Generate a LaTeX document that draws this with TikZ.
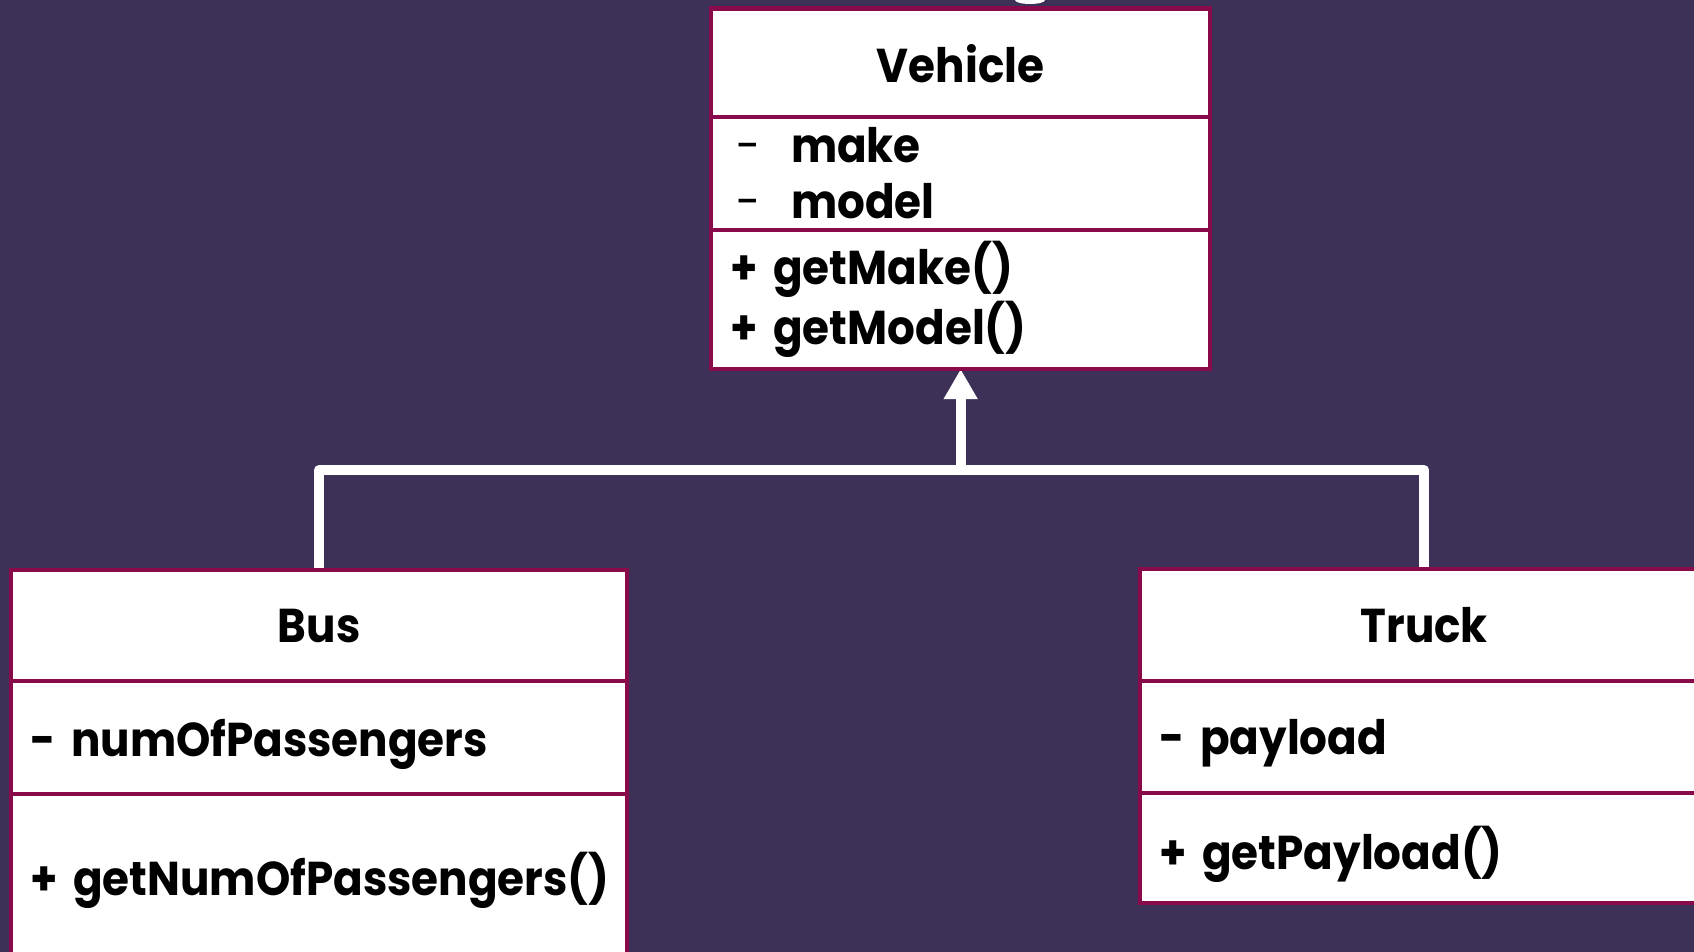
\documentclass[tikz,border=0pt]{standalone}
\usepackage{fontspec}
\setmainfont{Poppins}[FakeStretch=0.92]
\usetikzlibrary{arrows.meta}

\definecolor{slide}{HTML}{3D3158}
\definecolor{umlline}{HTML}{880A4B}

\pgfdeclarelayer{wires}
\pgfsetlayers{wires,main}

% keep the member lines evenly spaced, parentheses or not
\lineskiplimit=-10pt

\tikzset{
	compart/.style={draw=umlline, line width=1.2pt, fill=white, anchor=north west,
		outer sep=0pt, inner xsep=0.19cm, inner ysep=0pt, align=left,
		font=\bfseries\fontsize{13.5}{15.9}\selectfont},
	oneline/.style={compart, text depth=0pt},
	classname/.style={compart, align=center},
	link/.style={draw=white, line width=0.1cm, line join=round, line cap=round},
}

\newcommand{\priv}[1]{\hspace*{0.06cm}\makebox[0.55cm][l]{\mdseries -}#1}

\begin{document}
\begin{tikzpicture}[x=0.01cm, y=-0.01cm]
	\useasboundingbox (0,0) rectangle (1694,952);
	
	% Slide background
	\begin{pgfonlayer}{wires}
		\fill[slide] (0,0) rectangle (1694,952);
		% bit of the heading that is cut off at the top
		\fill[white] (1015,0) arc (180:0:15 and 4) -- cycle;
	\end{pgfonlayer}
	
	% --- Vehicle ---
	\node[classname, minimum width=4.99cm, minimum height=1.105cm, text width=4.61cm] (vtitle) at (711,8.5) {Vehicle};
	\node[compart, minimum width=4.99cm, minimum height=1.13cm, text width=4.61cm] (vattrs) at (711,117) {\priv{make}\\ \priv{model}};
	\node[compart, minimum width=4.99cm, minimum height=1.39cm, text width=4.61cm] (vops) at (711,230) {+ getMake()\\+ getModel()};
	
	% --- Bus ---
	\node[classname, minimum width=6.16cm, minimum height=1.11cm, text width=5.78cm] (btitle) at (11,570) {Bus};
	\node[oneline, minimum width=6.16cm, minimum height=1.13cm, text width=5.78cm] (battrs) at (11,681) {- numOfPassengers};
	\node[compart, minimum width=6.16cm, minimum height=1.72cm, text width=5.78cm] (bops) at (11,794) {\mbox{+ getNumOfPassengers()}};
	
	% --- Truck ---
	\node[classname, minimum width=5.68cm, minimum height=1.12cm, text width=5.30cm] (ttitle) at (1140,569) {Truck};
	\node[oneline, minimum width=5.68cm, minimum height=1.12cm, text width=5.30cm] (tattrs) at (1140,681) {- payload};
	\node[oneline, minimum width=5.68cm, minimum height=1.10cm, text width=5.30cm] (tops) at (1140,793) {+ getPayload()};
	
	% Generalisation: Bus and Truck inherit from Vehicle
	\coordinate (join) at (vops.south |- 0,470);
	\begin{pgfonlayer}{wires}
		\draw[link] (btitle.north) |- (join) -| (ttitle.north);
		\draw[link, line cap=butt, -{Triangle[width=0.32cm, length=0.30cm]}] (join) -- (vops.south);
	\end{pgfonlayer}
\end{tikzpicture}
\end{document}
